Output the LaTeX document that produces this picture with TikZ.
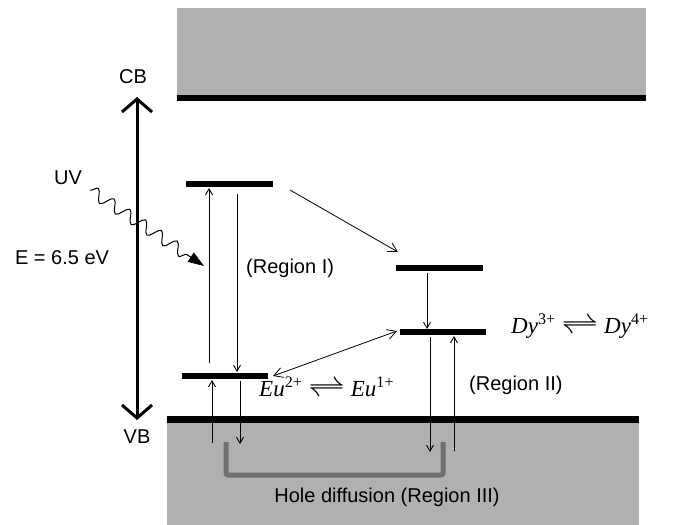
\documentclass[tikz,border=0pt]{standalone}
\usepackage{fontspec}
\setmainfont{Liberation Sans}
\newfontfamily\tms{Liberation Serif}
\usetikzlibrary{arrows.meta,decorations.pathmorphing}
\definecolor{band}{RGB}{176,176,176}
\definecolor{brk}{RGB}{112,112,112}
\begin{document}
\begin{tikzpicture}[x=1pt,y=-1pt,
  lvl/.style={fill=black},
  tarrow/.style={line width=0.9pt, -{Straight Barb[length=6pt,width=7pt]}},
  lbl/.style={font=\fontsize{20}{24}\selectfont, inner sep=0pt},
  ion/.style={font=\fontsize{23}{28}\selectfont\tms, inner sep=0pt, anchor=west}]
\useasboundingbox (0,0) rectangle (681,525);
\fill[white] (0,0) rectangle (681,525);
% bands
\fill[band] (177,8) rectangle (646,95);
\fill[black] (177,95) rectangle (646,101);
\fill[band] (167,423) rectangle (639,525);
\fill[black] (167,416) rectangle (639,423);
% levels
\fill[lvl] (186,181) rectangle (273,187);
\fill[lvl] (182,373) rectangle (268,379);
\fill[lvl] (396,265) rectangle (483,271);
\fill[lvl] (400,329) rectangle (486,335);
% coordinates
\coordinate (cbtop) at (137,97);
\coordinate (vbbot) at (137,420);
\coordinate (r1ua) at (209,363); \coordinate (r1ub) at (209,188);
\coordinate (r1da) at (237,194); \coordinate (r1db) at (237,372);
\coordinate (euua) at (212,443); \coordinate (euub) at (212,380);
\coordinate (euda) at (240,381); \coordinate (eudb) at (240,444);
\coordinate (r2da) at (430,337); \coordinate (r2db) at (430,452);
\coordinate (r2ua) at (454,451); \coordinate (r2ub) at (454,336);
\coordinate (dyda) at (427,273); \coordinate (dydb) at (427,329);
\coordinate (diaga) at (290,190); \coordinate (diagb) at (398,252);
\coordinate (dbla) at (273,376); \coordinate (dblb) at (397,331);
\coordinate (uva) at (90,190); \coordinate (uvb) at (204,266);
% energy arrow
\draw[line width=3pt, {Straight Barb[length=13pt,width=30pt]}-{Straight Barb[length=13pt,width=30pt]}] (cbtop) -- (vbbot);
% UV
\draw[line width=1pt, decorate, decoration={snake, amplitude=6pt, segment length=19pt, post length=14pt}, -{Triangle[length=16pt,width=11pt]}] (uva) -- (uvb);
% transitions
\draw[tarrow] (r1ua) -- (r1ub);
\draw[tarrow] (r1da) -- (r1db);
\draw[tarrow] (euua) -- (euub);
\draw[tarrow] (euda) -- (eudb);
\draw[tarrow] (r2da) -- (r2db);
\draw[tarrow] (r2ua) -- (r2ub);
\draw[tarrow] (dyda) -- (dydb);
\draw[tarrow, line width=0.8pt, -{Straight Barb[length=9pt,width=10pt]}] (diaga) -- (diagb);
\draw[tarrow, line width=0.8pt, {Straight Barb[length=9pt,width=10pt]}-{Straight Barb[length=9pt,width=10pt]}] (dbla) -- (dblb);
% hole diffusion bracket
\draw[brk, line width=5pt, rounded corners=2pt] (226,442) -- (226,475) -- (443,475) -- (443,442);
% labels
\node[lbl] (cb) at (133,77) {CB};
\node[lbl] (vb) at (137,437) {VB};
\node[lbl] (uv) at (68,178) {UV};
\node[lbl] (e) at (62,258) {E = 6.5 eV};
\node[lbl, anchor=west] (r1) at (246,268) {(Region I)};
\node[lbl, anchor=west] (r2) at (469,385) {(Region II)};
\node[lbl] (r3) at (387,497) {Hole diffusion (Region III)};
\node[ion] (dy) at (511,326) {\itshape Dy\textsuperscript{\upshape 3+}\kern6pt\raisebox{-1pt}{\scalebox{1.5}[1.3]{$\rightleftharpoons$}}\kern6pt\itshape Dy\textsuperscript{\upshape 4+}};
\node[ion] (eu) at (259,387) {\itshape Eu\textsuperscript{\upshape 2+}\kern6pt\raisebox{-1pt}{\scalebox{1.5}[1.3]{$\rightleftharpoons$}}\kern6pt\itshape Eu\textsuperscript{\upshape 1+}};
\end{tikzpicture}
\end{document}
